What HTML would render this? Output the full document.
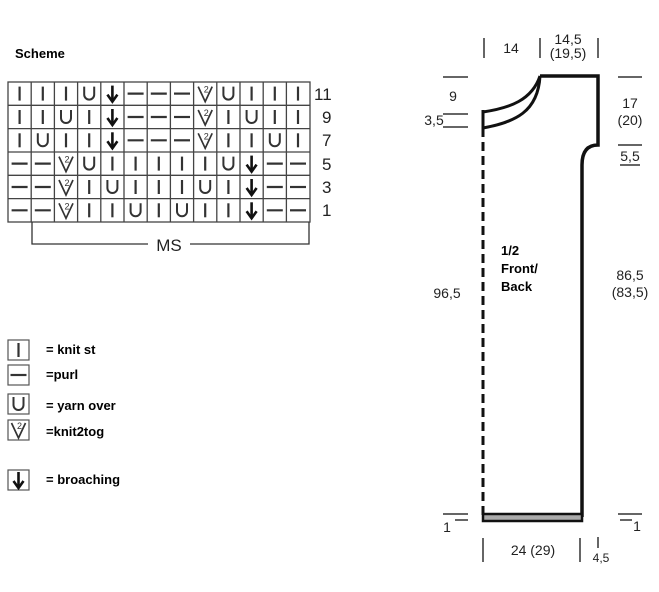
<!DOCTYPE html>
<html><head><meta charset="utf-8"><style>
html,body{margin:0;padding:0;background:#fff;}
svg{display:block;font-family:"Liberation Sans",sans-serif;}
</style></head><body>
<svg width="659" height="592" viewBox="0 0 659 592" xmlns="http://www.w3.org/2000/svg">
<defs>
<g id="I"><line x1="0" y1="-7" x2="0" y2="7" stroke="#333" stroke-width="2.2"/></g>
<g id="P"><line x1="-8" y1="0" x2="8" y2="0" stroke="#333" stroke-width="2.2"/></g>
<g id="U"><path d="M-5,-7 V1 A5,5 0 0 0 5,1 V-7" fill="none" stroke="#333" stroke-width="2"/></g>
<g id="A"><line x1="0" y1="-8" x2="0" y2="7" stroke="#111" stroke-width="2.6"/><path d="M-5,1 L0,8 L5,1" fill="none" stroke="#111" stroke-width="2.6"/></g>
<g id="V"><path d="M-7,-7 L0,8 L7,-7" fill="none" stroke="#333" stroke-width="1.7"/><text x="1" y="-1" font-size="9" text-anchor="middle" fill="#333">2</text></g>
</defs>
<text x="15" y="58" font-size="13" font-weight="bold" fill="#000">Scheme</text>
<g stroke="#444" stroke-width="1.3" fill="none">
<rect x="8" y="82" width="302" height="140"/>
<line x1="31.2" y1="82" x2="31.2" y2="222"/><line x1="54.4" y1="82" x2="54.4" y2="222"/><line x1="77.6" y1="82" x2="77.6" y2="222"/><line x1="100.8" y1="82" x2="100.8" y2="222"/><line x1="124" y1="82" x2="124" y2="222"/><line x1="147.2" y1="82" x2="147.2" y2="222"/><line x1="170.4" y1="82" x2="170.4" y2="222"/><line x1="193.6" y1="82" x2="193.6" y2="222"/><line x1="216.8" y1="82" x2="216.8" y2="222"/><line x1="240" y1="82" x2="240" y2="222"/><line x1="263.2" y1="82" x2="263.2" y2="222"/><line x1="286.4" y1="82" x2="286.4" y2="222"/>
<line x1="8" y1="105.3" x2="310" y2="105.3"/><line x1="8" y1="128.6" x2="310" y2="128.6"/><line x1="8" y1="152" x2="310" y2="152"/><line x1="8" y1="175.3" x2="310" y2="175.3"/><line x1="8" y1="198.6" x2="310" y2="198.6"/>
<path d="M32,222 V244 H148 M190,244 H309 V222" stroke="#333"/>
</g>
<text x="169" y="251" font-size="17" text-anchor="middle" fill="#222">MS</text>
<g font-size="17" fill="#222">
<text x="314" y="100">11</text><text x="322" y="123">9</text><text x="322" y="146">7</text><text x="322" y="170">5</text><text x="322" y="193">3</text><text x="322" y="216">1</text>
</g>
<g transform="translate(0,93.6)">
<use href="#I" x="19.6"/><use href="#I" x="42.8"/><use href="#I" x="66"/><use href="#U" x="89.2"/><use href="#A" x="112.4"/><use href="#P" x="135.6"/><use href="#P" x="158.8"/><use href="#P" x="182"/><use href="#V" x="205.2"/><use href="#U" x="228.4"/><use href="#I" x="251.6"/><use href="#I" x="274.8"/><use href="#I" x="298"/></g>
<g transform="translate(0,117)">
<use href="#I" x="19.6"/><use href="#I" x="42.8"/><use href="#U" x="66"/><use href="#I" x="89.2"/><use href="#A" x="112.4"/><use href="#P" x="135.6"/><use href="#P" x="158.8"/><use href="#P" x="182"/><use href="#V" x="205.2"/><use href="#I" x="228.4"/><use href="#U" x="251.6"/><use href="#I" x="274.8"/><use href="#I" x="298"/></g>
<g transform="translate(0,140.3)">
<use href="#I" x="19.6"/><use href="#U" x="42.8"/><use href="#I" x="66"/><use href="#I" x="89.2"/><use href="#A" x="112.4"/><use href="#P" x="135.6"/><use href="#P" x="158.8"/><use href="#P" x="182"/><use href="#V" x="205.2"/><use href="#I" x="228.4"/><use href="#I" x="251.6"/><use href="#U" x="274.8"/><use href="#I" x="298"/></g>
<g transform="translate(0,163.6)">
<use href="#P" x="19.6"/><use href="#P" x="42.8"/><use href="#V" x="66"/><use href="#U" x="89.2"/><use href="#I" x="112.4"/><use href="#I" x="135.6"/><use href="#I" x="158.8"/><use href="#I" x="182"/><use href="#I" x="205.2"/><use href="#U" x="228.4"/><use href="#A" x="251.6"/><use href="#P" x="274.8"/><use href="#P" x="298"/></g>
<g transform="translate(0,187)">
<use href="#P" x="19.6"/><use href="#P" x="42.8"/><use href="#V" x="66"/><use href="#I" x="89.2"/><use href="#U" x="112.4"/><use href="#I" x="135.6"/><use href="#I" x="158.8"/><use href="#I" x="182"/><use href="#U" x="205.2"/><use href="#I" x="228.4"/><use href="#A" x="251.6"/><use href="#P" x="274.8"/><use href="#P" x="298"/></g>
<g transform="translate(0,210.3)">
<use href="#P" x="19.6"/><use href="#P" x="42.8"/><use href="#V" x="66"/><use href="#I" x="89.2"/><use href="#I" x="112.4"/><use href="#U" x="135.6"/><use href="#I" x="158.8"/><use href="#U" x="182"/><use href="#I" x="205.2"/><use href="#I" x="228.4"/><use href="#A" x="251.6"/><use href="#P" x="274.8"/><use href="#P" x="298"/></g>
<g stroke="#555" stroke-width="1.2" fill="none">
<rect x="8" y="340" width="21" height="20"/><rect x="8" y="365" width="21" height="20"/><rect x="8" y="394" width="21" height="20"/><rect x="8" y="420" width="21" height="20"/><rect x="8" y="470" width="21" height="20"/>
</g>
<use href="#I" x="18.5" y="350"/><use href="#P" x="18.5" y="375"/><use href="#U" x="18.5" y="404"/><use href="#V" x="18.5" y="430"/><use href="#A" x="18.5" y="480"/>
<g font-size="13" font-weight="bold" fill="#000">
<text x="46" y="354">= knit st</text><text x="46" y="379">=purl</text><text x="46" y="410">= yarn over</text><text x="46" y="436">=knit2tog</text><text x="46" y="484">= broaching</text>
</g>
<g stroke="#111" fill="none">
<line x1="483" y1="128" x2="483" y2="520" stroke-width="3" stroke-dasharray="9,5"/>
<path d="M483,112 C510,108 532,100 540,76" stroke-width="3"/>
<path d="M483,128 C515,122 538,112 540,76" stroke-width="3"/>
<line x1="483" y1="110" x2="483" y2="130" stroke-width="3"/>
<path d="M540,76 H598 V145 Q582,145 582,165 V517" stroke-width="3.5"/>
<rect x="483" y="514" width="99" height="7" fill="#aaa" stroke-width="2.5"/>
</g>
<g stroke="#333" stroke-width="1.5">
<line x1="484" y1="38" x2="484" y2="58"/><line x1="540" y1="38" x2="540" y2="58"/><line x1="598" y1="38" x2="598" y2="58"/>
<line x1="443" y1="77" x2="468" y2="77"/><line x1="443" y1="114" x2="468" y2="114"/><line x1="443" y1="127" x2="468" y2="127"/>
<line x1="618" y1="77" x2="642" y2="77"/><line x1="618" y1="145" x2="642" y2="145"/><line x1="620" y1="165" x2="640" y2="165"/>
<line x1="443" y1="514" x2="468" y2="514"/><line x1="455" y1="520" x2="468" y2="520"/>
<line x1="618" y1="514" x2="642" y2="514"/><line x1="620" y1="520" x2="632" y2="520"/>
<line x1="483" y1="538" x2="483" y2="562"/><line x1="580" y1="538" x2="580" y2="562"/><line x1="598" y1="537" x2="598" y2="548"/>
</g>
<g font-size="14" fill="#222" text-anchor="middle">
<text x="511" y="53">14</text><text x="568" y="44">14,5</text><text x="568" y="58">(19,5)</text>
<text x="453" y="101">9</text><text x="434" y="125">3,5</text>
<text x="630" y="108">17</text><text x="630" y="125">(20)</text><text x="630" y="161">5,5</text>
<text x="447" y="298">96,5</text><text x="630" y="280">86,5</text><text x="630" y="297">(83,5)</text>
<text x="447" y="532">1</text><text x="637" y="531">1</text>
<text x="533" y="555">24 (29)</text><text x="601" y="562" font-size="12">4,5</text>
</g>
<g font-size="13" font-weight="bold" fill="#000">
<text x="501" y="255">1/2</text><text x="501" y="273">Front/</text><text x="501" y="291">Back</text>
</g>
</svg>
</body></html>
